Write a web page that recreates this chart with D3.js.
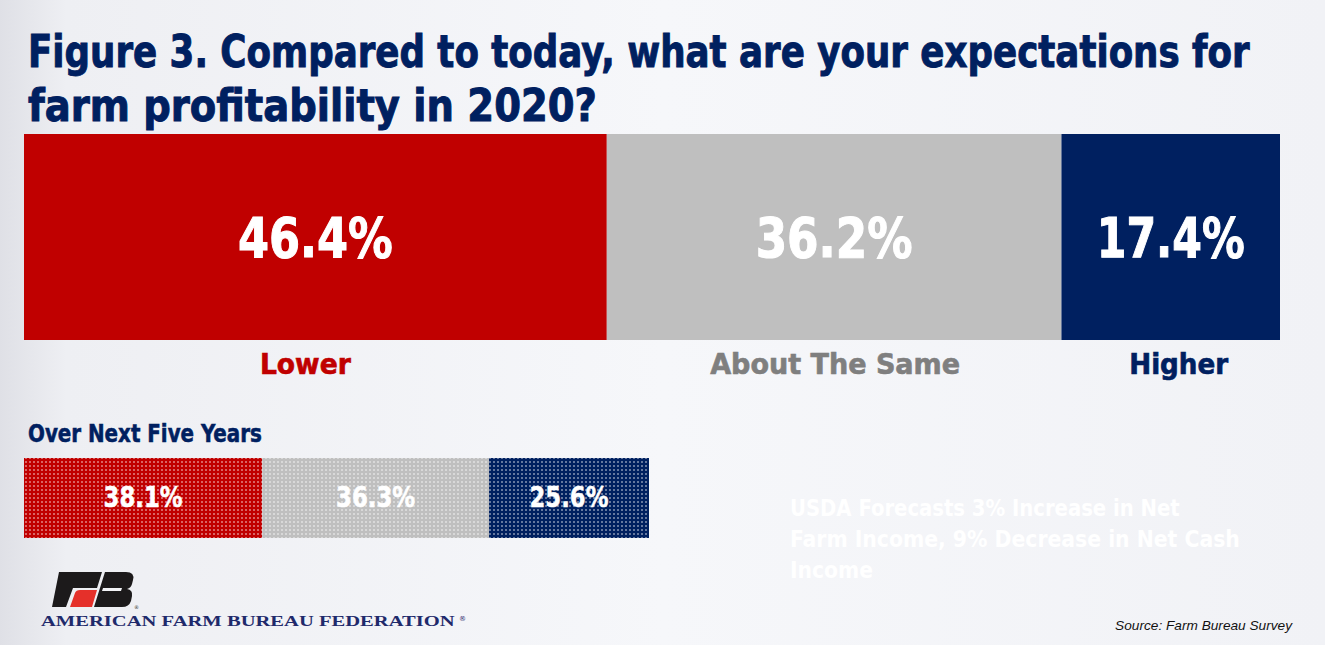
<!DOCTYPE html>
<html>
<head>
<meta charset="utf-8">
<script src="https://cdn.jsdelivr.net/npm/d3@7"></script>
<style>
  html, body { margin: 0; padding: 0; background: #f3f4f8; }
  svg { display: block; }
</style>
</head>
<body>
<svg id="chart" width="1325" height="645"></svg>
<script>
// ====== Data ======
var categories = ["Lower", "About The Same", "Higher"];
var values2020 = [46.4, 36.2, 17.4];
var valuesFiveYears = [38.1, 36.3, 25.6];
var titleLines = ["Figure 3. Compared to today, what are your expectations for",
                  "farm profitability in 2020?"];
var subTitle = "Over Next Five Years";
var noteLines = ["USDA Forecasts 3% Increase in Net",
                 "Farm Income, 9% Decrease in Net Cash",
                 "Income"];
var sourceText = "Source: Farm Bureau Survey";
var orgName = "AMERICAN FARM BUREAU FEDERATION";
//=====================================================

var W = 1325, H = 645;
var condensed = "'DejaVu Sans Condensed', 'DejaVu Sans', sans-serif";
var navy = "#002060";

var color = d3.scaleOrdinal().domain(categories).range(["#c00000", "#bfbfbf", "#002060"]);
var labelColor = d3.scaleOrdinal().domain(categories).range(["#c00000", "#7f7f7f", "#002060"]);

var svg = d3.select("#chart");
var defs = svg.append("defs");

// background gradient
var bg = defs.append("linearGradient").attr("id", "bg").attr("x1", 0).attr("x2", 1).attr("y1", 0).attr("y2", 0);
bg.append("stop").attr("offset", "0").attr("stop-color", "#dfe0e6");
bg.append("stop").attr("offset", "0.05").attr("stop-color", "#eeeff3");
bg.append("stop").attr("offset", "0.5").attr("stop-color", "#f6f7fa");
bg.append("stop").attr("offset", "1").attr("stop-color", "#f1f2f6");
svg.append("rect").attr("width", W).attr("height", H).attr("fill", "url(#bg)");

// dotted patterns for the five-year bar
categories.forEach(function(c, i) {
  var p = defs.append("pattern").attr("id", "dots" + i)
    .attr("patternUnits", "userSpaceOnUse").attr("width", 4).attr("height", 4);
  p.append("rect").attr("width", 4).attr("height", 4).attr("fill", color(c));
  p.append("circle").attr("cx", 2).attr("cy", 2).attr("r", 0.8).attr("fill", "#ffffff").attr("opacity", 0.9);
});

// squeeze a text horizontally to a given width, around its anchor point
function fit(sel, w) {
  sel.each(function() {
    var t = d3.select(this);
    var target = typeof w === "function" ? w.apply(this, arguments) : w;
    var natural = this.getComputedTextLength();
    var ax = +t.attr("x");
    var sx = target / natural;
    t.attr("transform", "translate(" + ax + ",0) scale(" + sx + ",1) translate(" + (-ax) + ",0)");
  });
  return sel;
}

//==================== Title ====================
var titleW = [1222, 569];
svg.append("g").selectAll("text").data(titleLines).enter().append("text")
  .attr("x", 28)
  .attr("y", function(d, i) { return i === 0 ? 67 : 121; })
  .attr("font-family", condensed)
  .attr("font-weight", "bold")
  .attr("font-size", 44)
  .attr("fill", navy)
  .attr("stroke", navy)
  .attr("stroke-width", 0.9)
  .text(function(d) { return d; })
  .call(fit, function(d, i) { return titleW[i]; });

//==================== Stacked helper ====================
function stackData(values) {
  var acc = 0;
  return values.map(function(v, i) {
    var d = { cat: categories[i], value: v, x0: acc, x1: acc + v, idx: i };
    acc += v;
    return d;
  });
}

//==================== Main bar (2020) ====================
var x = d3.scaleLinear().domain([0, 100]).range([24, 1280]);
var mainTop = 134, mainBottom = 340;
var mainData = stackData(values2020);
var mainLabelW = { "Lower": 155, "About The Same": 157, "Higher": 148 };
var catLabelW = { "Lower": 91, "About The Same": 250, "Higher": 99 };
var catOffset = { "Lower": -10, "About The Same": 1, "Higher": 8 };

var mainG = svg.append("g");
mainG.selectAll("rect").data(mainData).enter().append("rect")
  .attr("x", function(d) { return x(d.x0); })
  .attr("y", mainTop)
  .attr("width", function(d) { return x(d.x1) - x(d.x0); })
  .attr("height", mainBottom - mainTop)
  .attr("fill", function(d) { return color(d.cat); });

mainG.selectAll("text.pct").data(mainData).enter().append("text")
  .attr("class", "pct")
  .attr("x", function(d) { return (x(d.x0) + x(d.x1)) / 2; })
  .attr("y", 257)
  .attr("text-anchor", "middle")
  .attr("font-family", condensed)
  .attr("font-weight", "bold")
  .attr("font-size", 55)
  .attr("fill", "#ffffff")
  .attr("stroke", "#ffffff")
  .attr("stroke-width", 1)
  .text(function(d) { return d.value.toFixed(1) + "%"; })
  .call(fit, function(d) { return mainLabelW[d.cat]; });

mainG.selectAll("text.cat").data(mainData).enter().append("text")
  .attr("class", "cat")
  .attr("x", function(d) { return (x(d.x0) + x(d.x1)) / 2 + catOffset[d.cat]; })
  .attr("y", 374)
  .attr("text-anchor", "middle")
  .attr("font-family", condensed)
  .attr("font-weight", "bold")
  .attr("font-size", 29)
  .attr("fill", function(d) { return labelColor(d.cat); })
  .attr("stroke", function(d) { return labelColor(d.cat); })
  .attr("stroke-width", 0.6)
  .text(function(d) { return d.cat; })
  .call(fit, function(d) { return catLabelW[d.cat]; });

//==================== Five-year bar ====================
svg.append("text")
  .attr("x", 28).attr("y", 442)
  .attr("font-family", condensed)
  .attr("font-weight", "bold")
  .attr("font-size", 24)
  .attr("fill", navy)
  .attr("stroke", navy)
  .attr("stroke-width", 0.5)
  .text(subTitle)
  .call(fit, 234);

var x2 = d3.scaleLinear().domain([0, 100]).range([24, 649]);
var smallTop = 458, smallBottom = 538;
var smallData = stackData(valuesFiveYears);
var smallG = svg.append("g");
smallG.selectAll("rect").data(smallData).enter().append("rect")
  .attr("x", function(d) { return x2(d.x0); })
  .attr("y", smallTop)
  .attr("width", function(d) { return x2(d.x1) - x2(d.x0); })
  .attr("height", smallBottom - smallTop)
  .attr("fill", function(d) { return "url(#dots" + d.idx + ")"; });

smallG.selectAll("text").data(smallData).enter().append("text")
  .attr("x", function(d) { return (x2(d.x0) + x2(d.x1)) / 2; })
  .attr("y", 507)
  .attr("text-anchor", "middle")
  .attr("font-family", condensed)
  .attr("font-weight", "bold")
  .attr("font-size", 28)
  .attr("fill", "#ffffff")
  .attr("stroke", "#ffffff")
  .attr("stroke-width", 0.5)
  .text(function(d) { return d.value.toFixed(1) + "%"; })
  .call(fit, 79);

//==================== Faint note (white on white) ====================
var noteW = [390, 450, 83];
svg.append("g").selectAll("text").data(noteLines).enter().append("text")
  .attr("x", 790)
  .attr("y", function(d, i) { return 516 + i * 31; })
  .attr("font-family", condensed)
  .attr("font-weight", "bold")
  .attr("font-size", 23)
  .attr("fill", "#ffffff")
  .text(function(d) { return d; })
  .call(fit, function(d, i) { return noteW[i]; });

//==================== Source ====================
svg.append("text")
  .attr("x", 1292).attr("y", 630)
  .attr("text-anchor", "end")
  .attr("font-family", "'Liberation Sans', Arial, sans-serif")
  .attr("font-style", "italic")
  .attr("font-size", 13)
  .attr("fill", "#111111")
  .text(sourceText)
  .call(fit, 177);

//==================== Logo ====================
var logo = svg.append("g");
logo.append("path")
  .attr("d", "M59,572 L102,572 L97,588 L73,588 L66,607 L52,607 Z")
  .attr("fill", "#1c1a1b");
logo.append("path")
  .attr("d", "M80,590 L97,590 L92,607 L70,607 L75,593 Q76,590 80,590 Z")
  .attr("fill", "#e5302a");
logo.append("path")
  .attr("d", "M105,572 L126,572 Q135,572 133,580 L132,584 Q131,588 127,589 Q133,590 132,596 L131,601 Q129,607 122,607 L94,607 Z")
  .attr("fill", "#1c1a1b");
logo.append("path")
  .attr("d", "M103,588 L122,588 L121,591 L102,591 Z")
  .attr("fill", "#f2f3f6");
logo.append("text")
  .attr("x", 134).attr("y", 609)
  .attr("font-family", "'DejaVu Sans', sans-serif")
  .attr("font-size", 5)
  .attr("fill", "#333")
  .text("®");

var org = svg.append("text")
  .attr("x", 41).attr("y", 626)
  .attr("font-family", "'Liberation Serif', 'DejaVu Serif', serif")
  .attr("font-weight", "bold")
  .attr("font-size", 14)
  .attr("fill", "#1f2a6b")
  .text(orgName)
  .call(fit, 414);
svg.append("text")
  .attr("x", 459).attr("y", 621)
  .attr("font-family", "'DejaVu Sans', sans-serif")
  .attr("font-size", 7)
  .attr("fill", "#1f2a6b")
  .text("®");
</script>
</body>
</html>
